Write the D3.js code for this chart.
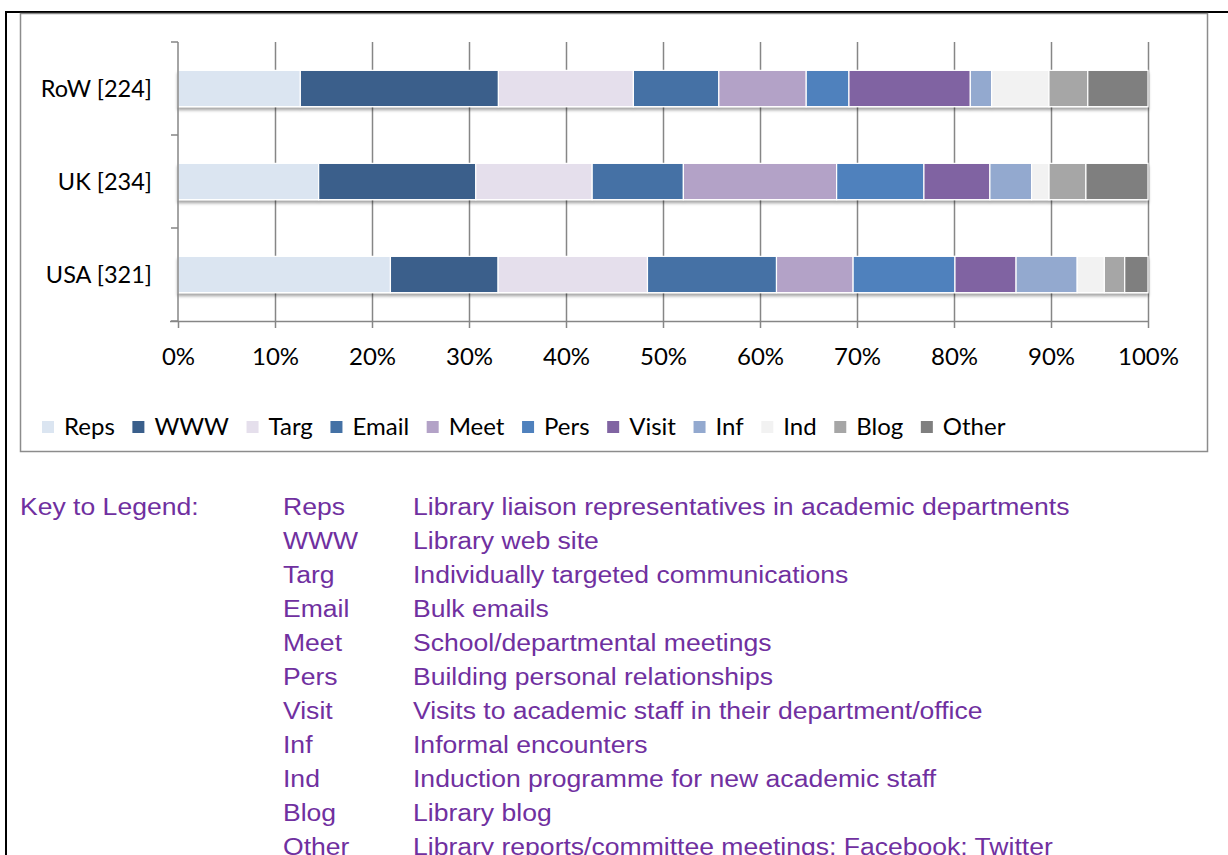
<!DOCTYPE html>
<html>
<head>
<meta charset="utf-8">
<script src="https://cdn.jsdelivr.net/npm/d3@7"></script>
<style>
  body { margin: 0; background: #fff; }
  svg { display: block; }
</style>
</head>
<body>
<div id="chart"></div>
<script>
"use strict";
var w = 1228;
var h = 855;

// countries (with number of respondents)
var categories = ["RoW [224]", "UK [234]", "USA [321]"];
var series = ["Reps", "WWW", "Targ", "Email", "Meet", "Pers", "Visit", "Inf", "Ind", "Blog", "Other"];
// share of each channel, in percent
var rowValues = [12.6, 20.4, 13.9, 8.8, 9.0, 4.4, 12.5, 2.2, 5.9, 4.0, 6.2];
var ukValues  = [14.5, 16.2, 12.0, 9.4, 15.8, 9.0, 6.8, 4.3, 1.8, 3.8, 6.4];
var usaValues = [21.9, 11.1, 15.4, 13.3, 7.9, 10.5, 6.3, 6.3, 2.8, 2.1, 2.4];
var colours = ["#dbe5f1", "#3a5f8b", "#e5dfec", "#4471a5", "#b3a2c7", "#4f81bd",
               "#8064a2", "#93a9cf", "#f2f2f2", "#a6a6a6", "#7f7f7f"];
var tickValues = [0, 0.1, 0.2, 0.3, 0.4, 0.5, 0.6, 0.7, 0.8, 0.9, 1];
var descriptions = [
    "Library liaison representatives in academic departments",
    "Library web site",
    "Individually targeted communications",
    "Bulk emails",
    "School/departmental meetings",
    "Building personal relationships",
    "Visits to academic staff in their department/office",
    "Informal encounters",
    "Induction programme for new academic staff",
    "Library blog",
    "Library reports/committee meetings; Facebook; Twitter"
];

function init() {
    apply();
}
window.onload = init;

function apply() {
    var svg = d3.select("#chart")
        .append("svg")
        .attr("width", w)
        .attr("height", h);

    var chartFont = "Lato, 'Open Sans', sans-serif";

    // shadow under the bars
    var defs = svg.append("defs");
    var filt = defs.append("filter").attr("id", "shadow")
        .attr("x", "-5%").attr("y", "-20%").attr("width", "110%").attr("height", "160%");
    filt.append("feDropShadow")
        .attr("dx", 0).attr("dy", 3).attr("stdDeviation", 1.5)
        .attr("flood-color", "#000").attr("flood-opacity", 0.35);

    // page frame (black) and chart box (grey)
    svg.append("path")
        .attr("d", "M6,855 V12 H1228")
        .attr("fill", "none").attr("stroke", "#000").attr("stroke-width", 2);
    svg.append("rect")
        .attr("x", 20.5).attr("y", 13.5).attr("width", 1187).attr("height", 438)
        .attr("fill", "none").attr("stroke", "#8c8c8c").attr("stroke-width", 1.5);

    var table = categories.map(function(c, i) {
        var vals = [rowValues, ukValues, usaValues][i];
        var row = { cat: c };
        series.forEach(function(s, j) { row[s] = vals[j]; });
        return row;
    });

    var stack = d3.stack().keys(series).offset(d3.stackOffsetExpand);
    var stacked = stack(table);

    var x = d3.scaleLinear().domain([0, 1]).range([178, 1148]);
    var y = d3.scaleBand().domain(categories).range([42, 321])
        .paddingInner(0.61).paddingOuter(0.305);

    // vertical gridlines
    var grid = svg.append("g")
        .attr("transform", "translate(0,321)")
        .call(d3.axisBottom(x).tickValues(tickValues.slice(1)).tickSize(-279).tickFormat(""));
    grid.select(".domain").remove();
    grid.selectAll("line").attr("stroke", "#868686").attr("stroke-width", 1.5);

    // bars
    var bars = svg.append("g").attr("filter", "url(#shadow)");
    bars.selectAll("g")
        .data(stacked)
        .enter()
        .append("g")
        .attr("fill", function(d, i) { return colours[i]; })
        .selectAll("rect")
        .data(function(d) { return d; })
        .enter()
        .append("rect")
        .attr("x", function(d) { return x(d[0]); })
        .attr("width", function(d) { return x(d[1]) - x(d[0]); })
        .attr("y", function(d) { return y(d.data.cat); })
        .attr("height", y.bandwidth())
        .attr("stroke", "#fff")
        .attr("stroke-width", 1.2);

    // x axis
    var xAxis = svg.append("g")
        .attr("transform", "translate(0,321)")
        .call(d3.axisBottom(x).tickValues(tickValues).tickSize(7).tickSizeOuter(0)
            .tickFormat(d3.format(".0%")));
    xAxis.select(".domain").attr("stroke", "#868686").attr("stroke-width", 1.5)
        .attr("d", "M170,0.5H1148");
    xAxis.selectAll("line").attr("stroke", "#868686").attr("stroke-width", 1.5);
    xAxis.selectAll("text")
        .attr("y", 27)
        .attr("fill", "#000")
        .style("font-family", chartFont)
        .style("font-size", "24px");

    // y axis with ticks at category boundaries
    var yAxis = svg.append("g");
    yAxis.append("line")
        .attr("x1", 178).attr("x2", 178).attr("y1", 42).attr("y2", 321)
        .attr("stroke", "#868686").attr("stroke-width", 1.5);
    yAxis.selectAll("line.tk")
        .data(d3.range(categories.length + 1))
        .enter()
        .append("line")
        .attr("class", "tk")
        .attr("x1", 171).attr("x2", 178)
        .attr("y1", function(i) { return y.range()[0] + i * y.step(); })
        .attr("y2", function(i) { return y.range()[0] + i * y.step(); })
        .attr("stroke", "#868686").attr("stroke-width", 1.5);
    yAxis.selectAll("text")
        .data(categories)
        .enter()
        .append("text")
        .attr("x", 152)
        .attr("y", function(d) { return y(d) + y.bandwidth() / 2; })
        .attr("dy", "0.35em")
        .attr("text-anchor", "end")
        .style("font-family", chartFont)
        .style("font-size", "23.5px")
        .text(function(d) { return d; });

    // legend
    var legend = svg.append("g").attr("transform", "translate(42,427)");
    var lx = 0;
    series.forEach(function(s, i) {
        var item = legend.append("g").attr("transform", "translate(" + lx + ",0)");
        item.append("rect")
            .attr("x", 0).attr("y", -6).attr("width", 12).attr("height", 12)
            .attr("fill", colours[i]);
        var t = item.append("text")
            .attr("x", 22).attr("dy", "0.35em")
            .style("font-family", chartFont)
            .style("font-size", "24px")
            .text(s);
        lx += 22 + t.node().getComputedTextLength() + 17.6;
    });

    // key to legend (the source text is drawn a little wide)
    var stretch = 1.13;
    var key = svg.append("g")
        .style("font-family", "'Liberation Sans', Arial, sans-serif")
        .style("font-size", "23.5px")
        .attr("fill", "#7030a0");
    key.append("text")
        .attr("transform", "translate(20,515) scale(" + stretch + ",1)")
        .text("Key to Legend:");
    var rowY = d3.scaleLinear().domain([0, 1]).range([515, 549]);
    key.selectAll("text.code")
        .data(series)
        .enter()
        .append("text")
        .attr("class", "code")
        .attr("transform", function(d, i) {
            return "translate(283," + rowY(i) + ") scale(" + stretch + ",1)";
        })
        .text(function(d) { return d; });
    key.selectAll("text.desc")
        .data(descriptions)
        .enter()
        .append("text")
        .attr("class", "desc")
        .attr("transform", function(d, i) {
            return "translate(413," + rowY(i) + ") scale(" + stretch + ",1)";
        })
        .text(function(d) { return d; });
}
</script>
</body>
</html>
